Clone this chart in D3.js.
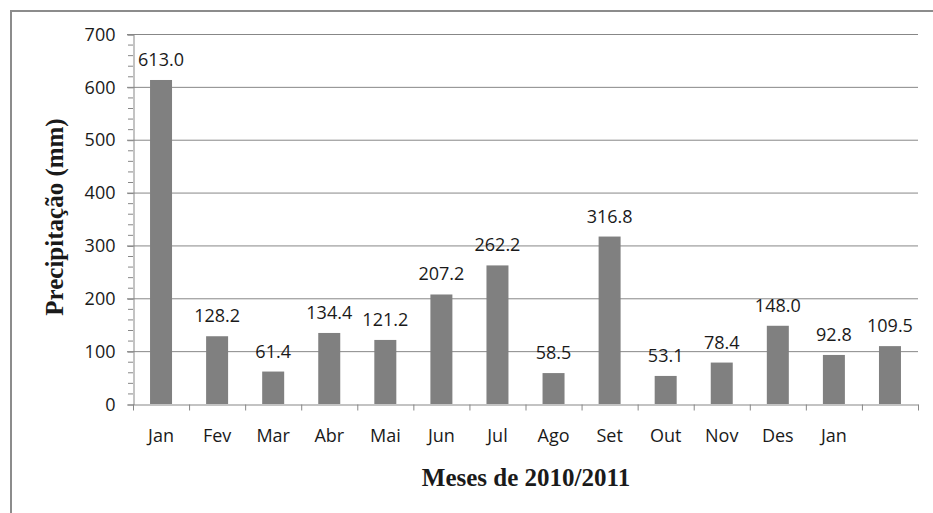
<html>
<head>
<script src="https://cdnjs.cloudflare.com/ajax/libs/d3/7.8.5/d3.min.js"></script>
<style>
  body { margin: 0; background: #fff; }
  text { font-family: "Open Sans", sans-serif; fill: #1a1a1a; }
</style>
</head>
<body>
<script>
    // chart data
    var months = ['Jan', 'Fev', 'Mar', 'Abr', 'Mai', 'Jun', 'Jul', 'Ago', 'Set', 'Out', 'Nov', 'Des', 'Jan', ''];
    var rainfall = [613.0, 128.2, 61.4, 134.4, 121.2, 207.2, 262.2, 58.5, 316.8, 53.1, 78.4, 148.0, 92.8, 109.5];
    var yTicks = [0, 100, 200, 300, 400, 500, 600, 700];

    var W = 933, H = 513;
    var plotL = 133, plotR = 918, plotT = 34, plotB = 404;
    var gray = '#878787';
    var labelFont = '"Open Sans", sans-serif';
    var labelSize = '18px';

    var svg = d3.select('body').append('svg')
                .attr('width', W).attr('height', H);

    // outer frame (only top and left edge visible)
    svg.append('path')
       .attr('d', 'M11,513V11H933')
       .attr('fill', 'none')
       .attr('stroke', '#8c8c8c')
       .attr('stroke-width', 2);

    var x = d3.scaleBand()
              .domain(d3.range(months.length))
              .range([plotL, plotR]);

    var y = d3.scaleLinear()
              .domain([0, 700])
              .range([plotB, plotT]);

    // gridlines
    svg.append('g').selectAll('line')
       .data(yTicks.slice(1))
       .enter().append('line')
       .attr('x1', plotL - 6).attr('x2', plotR)
       .attr('y1', function (d) { return y(d) + 0.5; })
       .attr('y2', function (d) { return y(d) + 0.5; })
       .attr('stroke', gray);

    // minor ticks on y axis
    svg.append('g').selectAll('line')
       .data(d3.range(0, 701, 20).filter(function (d) { return d % 100 !== 0; }))
       .enter().append('line')
       .attr('x1', plotL - 5).attr('x2', plotL)
       .attr('y1', function (d) { return y(d) + 0.5; })
       .attr('y2', function (d) { return y(d) + 0.5; })
       .attr('stroke', gray);

    // y axis
    var yAxis = d3.axisLeft(y).tickValues(yTicks).tickSize(6).tickPadding(12);
    var gy = svg.append('g')
                .attr('transform', 'translate(' + (plotL + 0.5) + ',0.5)')
                .call(yAxis);
    gy.selectAll('path, line').attr('stroke', gray);
    gy.selectAll('text').style('font-size', labelSize).attr('fill', '#1a1a1a')
      .style('font-family', labelFont);

    // bars
    var barW = 22;
    svg.append('g').selectAll('rect')
       .data(rainfall)
       .enter().append('rect')
       .attr('x', function (d, i) { return x(i) + (x.bandwidth() - barW) / 2; })
       .attr('y', function (d) { return y(d); })
       .attr('width', barW)
       .attr('height', function (d) { return plotB - y(d); })
       .attr('fill', '#808080');

    // x axis with ticks at band boundaries
    var xAxis = d3.axisBottom(x)
                  .tickFormat(function (i) { return months[i]; })
                  .tickSize(0).tickPadding(25);
    var gx = svg.append('g')
                .attr('transform', 'translate(0,' + (plotB + 0.5) + ')')
                .call(xAxis);
    gx.select('.domain').attr('stroke', gray);
    gx.selectAll('text').style('font-size', labelSize).attr('fill', '#1a1a1a')
      .style('font-family', labelFont);
    gx.selectAll('.edge')
      .data(d3.range(months.length + 1))
      .enter().append('line')
      .attr('class', 'edge')
      .attr('x1', function (i) { return plotL + i * x.bandwidth() + 0.5; })
      .attr('x2', function (i) { return plotL + i * x.bandwidth() + 0.5; })
      .attr('y1', 0).attr('y2', 6)
      .attr('stroke', gray);

    // value labels
    svg.append('g').selectAll('text')
       .data(rainfall)
       .enter().append('text')
       .attr('x', function (d, i) { return x(i) + x.bandwidth() / 2; })
       .attr('y', function (d) { return y(d) - 14; })
       .attr('text-anchor', 'middle')
       .style('font-size', labelSize)
       .text(function (d) { return d.toFixed(1); });

    // axis titles
    svg.append('text')
       .attr('transform', 'translate(63,217) rotate(-90)')
       .attr('text-anchor', 'middle')
       .style('font-family', '"Liberation Serif", serif')
       .style('font-weight', 'bold')
       .style('font-size', '25px')
       .text('Precipitação (mm)');

    svg.append('text')
       .attr('x', 526).attr('y', 486)
       .attr('text-anchor', 'middle')
       .style('font-family', '"Liberation Serif", serif')
       .style('font-weight', 'bold')
       .style('font-size', '25px')
       .text('Meses de 2010/2011');
</script>
</body>
</html>
